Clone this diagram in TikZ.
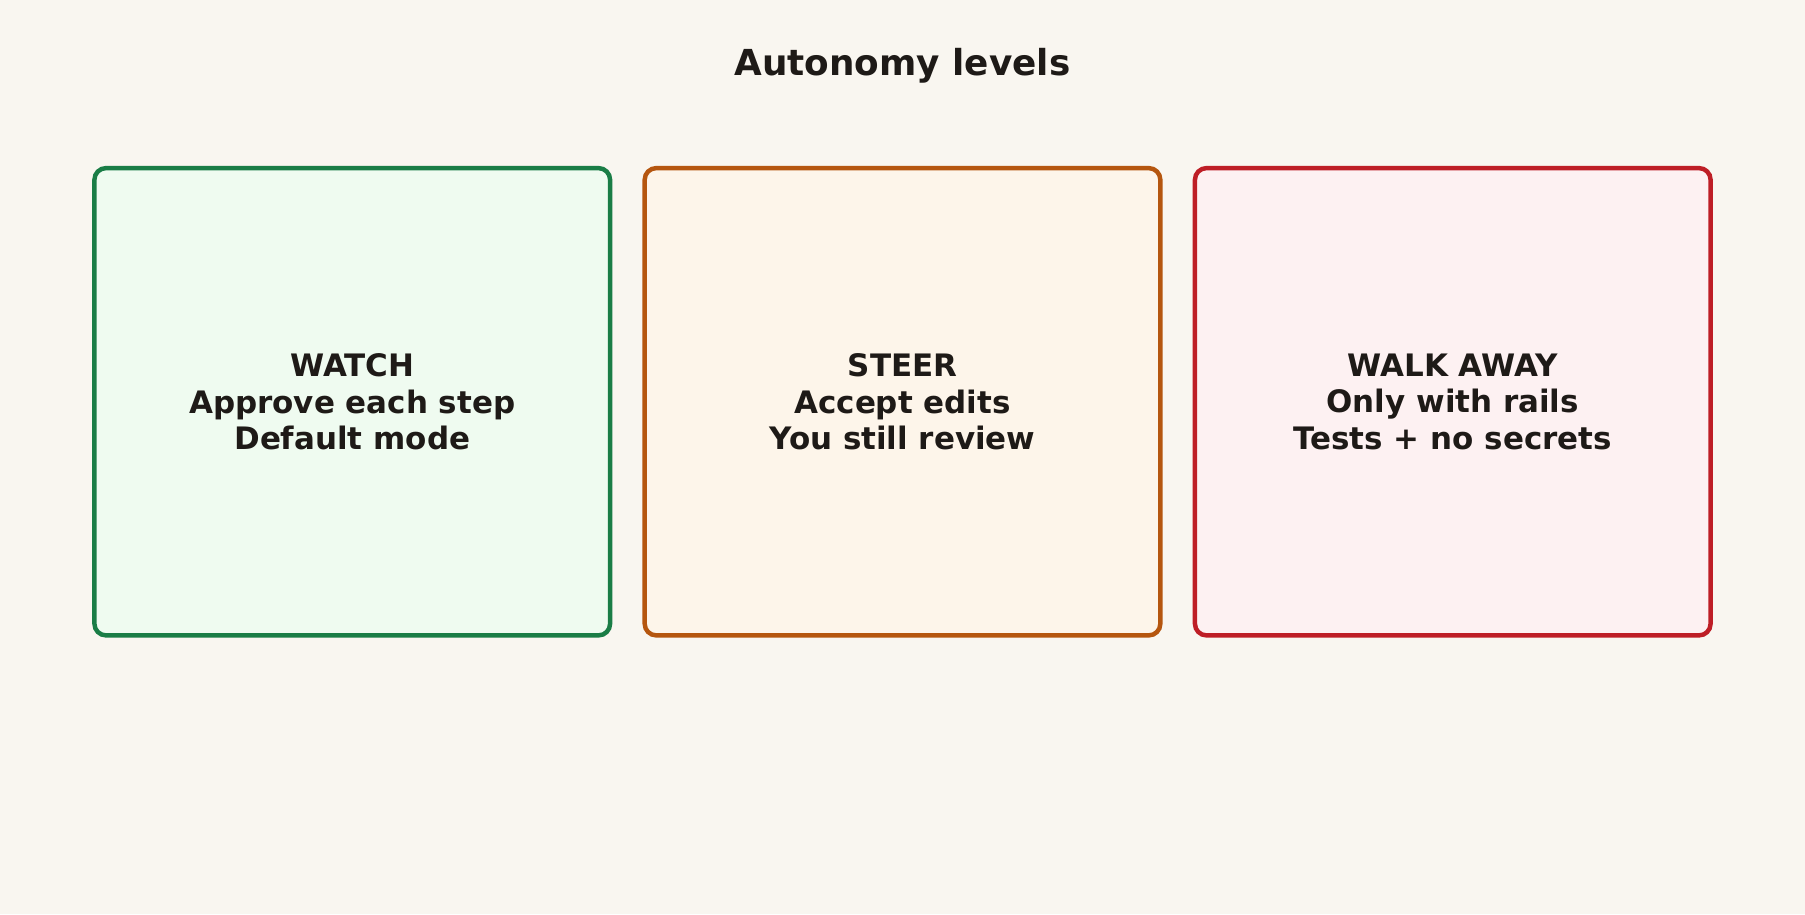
\documentclass[tikz,border=0pt]{standalone}
\usepackage{fontspec}
\setmainfont{DejaVu Sans}
\definecolor{bgcol}{HTML}{F9F6F0}
\definecolor{inkcol}{HTML}{1E1A17}
\definecolor{watchline}{HTML}{1A7D46}
\definecolor{watchfill}{HTML}{EFFBF0}
\definecolor{steerline}{HTML}{B5560F}
\definecolor{steerfill}{HTML}{FDF5EA}
\definecolor{walkline}{HTML}{BE1E26}
\definecolor{walkfill}{HTML}{FDF1F2}
\begin{document}
\begin{tikzpicture}[x=0.02cm,y=-0.02cm]
  \tikzstyle{level}=[rounded corners=0.2cm,line width=2.2pt,
    minimum width=8.96cm,minimum height=8.12cm,align=center,
    text=inkcol,font=\bfseries\fontsize{15.3}{18.2}\selectfont]
  \fill[bgcol] (0,0) rectangle (1568,794);
  \node[text=inkcol,font=\bfseries\fontsize{17.7}{21}\selectfont] (title) at (784,57) {Autonomy levels};
  \node[level,draw=watchline,fill=watchfill] (watch) at (306,349)
    {WATCH\\Approve each step\\Default mode};
  \node[level,draw=steerline,fill=steerfill] (steer) at (784,349)
    {STEER\\Accept edits\\You still review};
  \node[level,draw=walkline,fill=walkfill] (walk) at (1262,349)
    {WALK AWAY\\Only with rails\\Tests + no secrets};
\end{tikzpicture}
\end{document}
